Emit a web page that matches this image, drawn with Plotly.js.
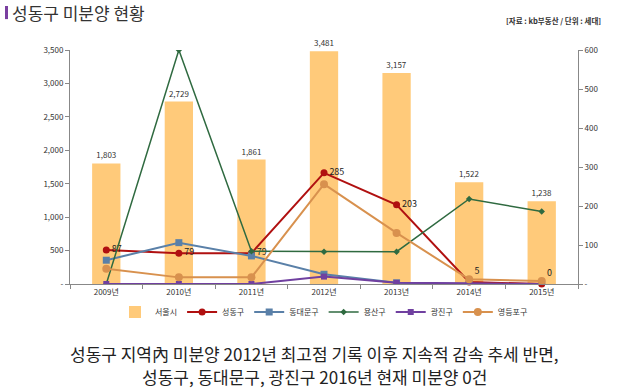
<!DOCTYPE html>
<html><head><meta charset="utf-8">
<script src="https://cdn.plot.ly/plotly-3.0.1.min.js"></script>
<style>html,body{margin:0;padding:0;background:#fff;}#c{width:622px;height:389px;}</style>
</head><body><div id="c"></div>
<script>
const years = ['2009년','2010년','2011년','2012년','2013년','2014년','2015년'];
const seoul = [1803, 2729, 1861, 3481, 3157, 1522, 1238];
const seongdong = [87, 79, 79, 285, 203, 5, 0];
const dongdaemun = [61, 106, 72, 25, 3, 0, 0];
const yongsan = [0, 600, 84, 83, 83, 218, 186];
const gwangjin = [0, 0, 0, 19, 3, 2, 0];
const yeongdeungpo = [39, 17, 17, 256, 131, 12, 8];
const leftTicks = [0, 500, 1000, 1500, 2000, 2500, 3000, 3500];
const leftTickText = ['-', '500', '1,000', '1,500', '2,000', '2,500', '3,000', '3,500'];
const rightTicks = [0, 100, 200, 300, 400, 500, 600];
const rightTickText = ['-', '100', '200', '300', '400', '500', '600'];

const F = '"Noto Sans CJK KR", "Noto Sans", sans-serif';
const fmt = v => v.toLocaleString('en-US');

const traces = [
  {type:'bar', name:'서울시', x:years, y:seoul, marker:{color:'#FFCA7A'}, width:0.39,
   text:seoul.map(fmt), textposition:'outside', cliponaxis:false,
   textfont:{size:8, color:'#333'}},
  {type:'scatter', mode:'lines+markers+text', name:'성동구', x:years, y:seongdong, yaxis:'y2',
   line:{color:'#B01010', width:2}, marker:{color:'#B01010', size:7, symbol:'circle'},
   text:seongdong.map(String),
   textposition:seongdong.map(v => v < 20 ? 'top right' : 'middle right'),
   textfont:{size:9, color:'#222'}, cliponaxis:false},
  {type:'scatter', mode:'lines+markers', name:'동대문구', x:years, y:dongdaemun, yaxis:'y2',
   line:{color:'#5A80A8', width:2}, marker:{color:'#5A80A8', size:7, symbol:'square'}},
  {type:'scatter', mode:'lines+markers', name:'용산구', x:years, y:yongsan, yaxis:'y2',
   line:{color:'#2F6A40', width:1.5}, marker:{color:'#2F6A40', size:5, symbol:'diamond'}},
  {type:'scatter', mode:'lines+markers', name:'광진구', x:years, y:gwangjin, yaxis:'y2',
   line:{color:'#7040A0', width:2}, marker:{color:'#7040A0', size:6, symbol:'square'}},
  {type:'scatter', mode:'lines+markers', name:'영등포구', x:years, y:yeongdeungpo, yaxis:'y2',
   line:{color:'#D8914E', width:2}, marker:{color:'#D8914E', size:8, symbol:'circle'}}
];

const layout = {
  width:622, height:389,
  margin:{l:70, r:44, t:50, b:105},
  paper_bgcolor:'#fff', plot_bgcolor:'#fff',
  font:{family:F, color:'#333'},
  showlegend:true,
  legend:{orientation:'h', x:0.5, xanchor:'center', y:-0.12, yanchor:'middle',
          font:{size:8, color:'#333'}, itemwidth:30, traceorder:'normal', tracegroupgap:0},
  xaxis:{type:'category', showgrid:false, showline:true, linecolor:'#888', linewidth:1,
         ticks:'outside', ticklen:4, tickcolor:'#888', tickson:'boundaries',
         tickfont:{size:8, color:'#333'}},
  yaxis:{range:[0,3500], tickvals:leftTicks, ticktext:leftTickText, showgrid:false,
         showline:true, linecolor:'#888', ticks:'outside', ticklen:4, tickcolor:'#888',
         tickfont:{size:8, color:'#333'}, zeroline:false},
  yaxis2:{range:[0,600], overlaying:'y', side:'right', tickvals:rightTicks, ticktext:rightTickText,
          showgrid:false, showline:true, linecolor:'#888', ticks:'outside', ticklen:4, tickcolor:'#888',
          tickfont:{size:8, color:'#333'}, zeroline:false},
  shapes:[{type:'rect', xref:'paper', yref:'paper', x0:-0.128, x1:-0.122, y0:1.132, y1:1.188,
           fillcolor:'#7A3FA0', line:{width:0}}],
  annotations:[
    {xref:'paper', yref:'paper', x:-0.118, y:1.160, xanchor:'left', yanchor:'middle', showarrow:false,
     text:'성동구 미분양 현황', font:{size:17, color:'#333', family:F}},
    {xref:'paper', yref:'paper', x:1.049, y:1.128, xanchor:'right', yanchor:'middle', showarrow:false,
     text:'<b>[자료 : kb부동산 / 단위 : 세대]</b>', font:{size:7.5, color:'#333', family:F}},
    {xref:'paper', yref:'paper', x:0.482, y:-0.297, xanchor:'center', yanchor:'middle', showarrow:false,
     text:'성동구 지역內 미분양 2012년 최고점 기록 이후 지속적 감속 추세 반면,', font:{size:17, color:'#222', family:F}},
    {xref:'paper', yref:'paper', x:0.482, y:-0.395, xanchor:'center', yanchor:'middle', showarrow:false,
     text:'성동구, 동대문구, 광진구 2016년 현재 미분양 0건', font:{size:17, color:'#222', family:F}}
  ]
};
Plotly.newPlot('c', traces, layout, {displayModeBar:false, staticPlot:true});
</script></body></html>
